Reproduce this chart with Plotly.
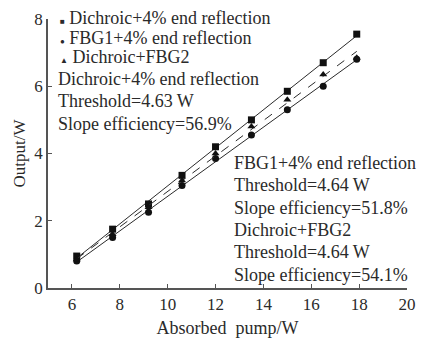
import numpy as np
import plotly.graph_objects as go

pump = [6.2, 7.7, 9.2, 10.6, 12.0, 13.5, 15.0, 16.5, 17.9]
dichroic_4 = [0.95, 1.75, 2.5, 3.35, 4.2, 5.0, 5.85, 6.7, 7.55]
fbg1_4 = [0.8, 1.5, 2.25, 3.05, 3.85, 4.55, 5.3, 6.0, 6.8]
dichroic_fbg2 = [0.85, 1.6, 2.4, 3.2, 4.0, 4.8, 5.6, 6.35, 6.85]

series = [
    ("Dichroic+4% end reflection", dichroic_4, "square", "solid"),
    ("FBG1+4% end reflection", fbg1_4, "circle", "solid"),
    ("Dichroic+FBG2", dichroic_fbg2, "triangle-up", "dash"),
]

FONT = "Liberation Serif"
INK = "#2a2a2a"

fig = go.Figure()
x = np.array(pump)
for name, ys, sym, dash in series:
    k, b = np.polyfit(x, np.array(ys), 1)
    xl = np.array([x.min(), x.max()])
    fig.add_trace(go.Scatter(x=xl, y=k * xl + b, mode="lines",
                             line=dict(color=INK, width=1, dash=dash),
                             showlegend=False, hoverinfo="skip"))
    fig.add_trace(go.Scatter(x=pump, y=ys, mode="markers", name=name,
                             marker=dict(symbol=sym, size=7, color="#111111"),
                             showlegend=False))

legend_lines = [
    ("\u25A0", "Dichroic+4% end reflection", 18),
    ("\u25CF", "FBG1+4% end reflection", 38),
    ("\u25B2", "Dichroic+FBG2", 57),
]
H = 338 - 19 - 50
for sym, txt, ypx in legend_lines:
    fig.add_annotation(
        text=f"<span style='font-size:8px'>{sym}</span> {txt}",
        xref="paper", yref="paper", x=(58 - 48) / 359, y=1 - (ypx - 19) / H,
        xanchor="left", yanchor="middle", showarrow=False,
        font=dict(family=FONT, size=18, color=INK))

blocks = [
    (56, ["Dichroic+4% end reflection", "Threshold=4.63 W", "Slope efficiency=56.9%"], [79, 101, 124]),
    (232, ["FBG1+4% end reflection", "Threshold=4.64 W", "Slope efficiency=51.8%",
           "Dichroic+FBG2", "Threshold=4.64 W", "Slope efficiency=54.1%"],
     [163, 185, 208, 230, 252, 275]),
]
for xpx, lines, ys in blocks:
    for t, ypx in zip(lines, ys):
        fig.add_annotation(
            text=t, xref="paper", yref="paper", x=(xpx - 48) / 359,
            y=1 - (ypx - 19) / H, xanchor="left", yanchor="middle",
            showarrow=False, font=dict(family=FONT, size=18, color=INK))

fig.update_layout(
    width=426, height=338,
    margin=dict(l=48, r=19, t=19, b=50),
    paper_bgcolor="white", plot_bgcolor="white",
    font=dict(family=FONT, size=17, color=INK),
    xaxis=dict(range=[5, 20], tickvals=[6, 8, 10, 12, 14, 16, 18, 20],
               showline=True, linecolor="#555555", linewidth=1.5,
               ticks="inside", ticklen=4, tickcolor="#555555",
               showgrid=False, zeroline=False, automargin=False,
               title=dict(text="Absorbed  pump/W", font=dict(size=18), standoff=9)),
    yaxis=dict(range=[0, 8], tickvals=[0, 2, 4, 6, 8],
               showline=True, linecolor="#555555", linewidth=1.5,
               ticks="inside", ticklen=4, tickcolor="#555555",
               showgrid=False, zeroline=False, automargin=False,
               title=dict(text="Output/W", font=dict(size=17), standoff=4)),
)

fig.write_html("out.html")
